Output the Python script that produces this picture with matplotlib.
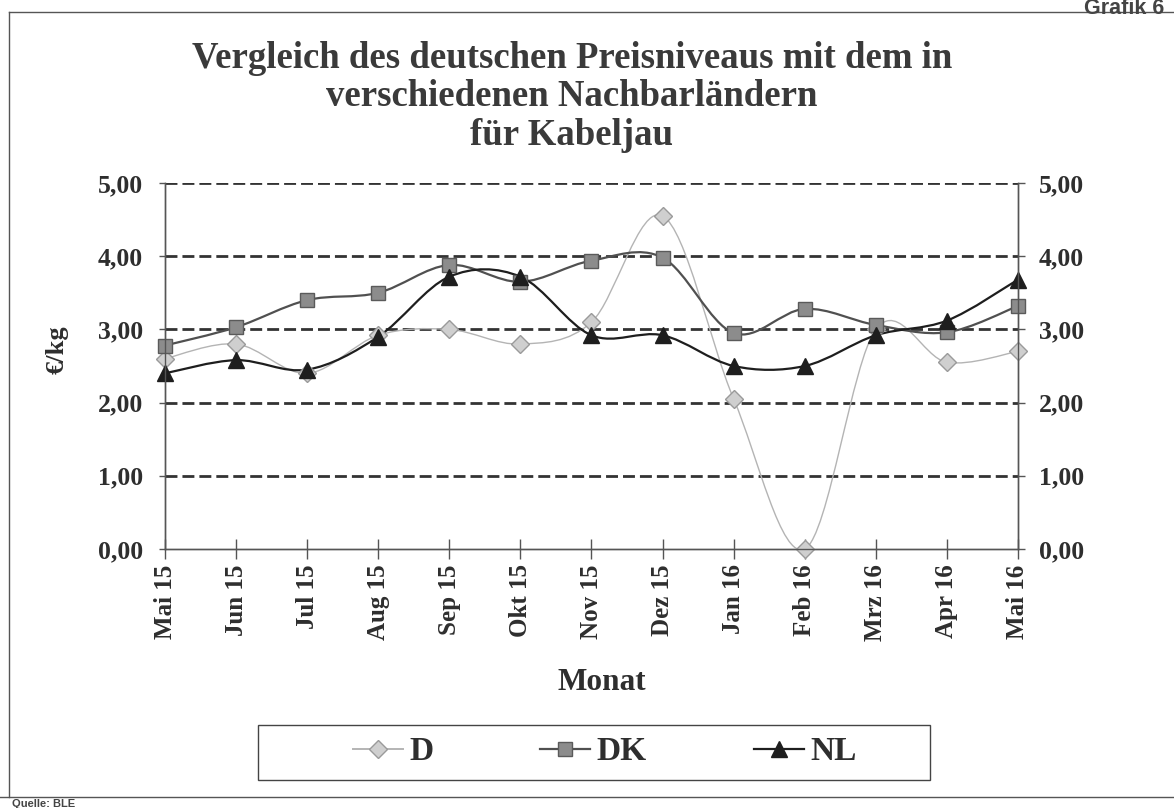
import matplotlib

matplotlib.use("Agg")
import matplotlib.pyplot as plt
from matplotlib.lines import Line2D
from matplotlib.patches import PathPatch, Rectangle
from matplotlib.path import Path

months = ["Mai 15", "Jun 15", "Jul 15", "Aug 15", "Sep 15", "Okt 15", "Nov 15",
          "Dez 15", "Jan 16", "Feb 16", "Mrz 16", "Apr 16", "Mai 16"]
d_vals = [2.60, 2.80, 2.40, 2.92, 3.00, 2.80, 3.10, 4.55, 2.05, 0.00, 3.00, 2.55, 2.70]
dk_vals = [2.78, 3.03, 3.40, 3.50, 3.88, 3.65, 3.94, 3.98, 2.95, 3.28, 3.06, 2.96, 3.32]
nl_vals = [2.40, 2.58, 2.45, 2.90, 3.72, 3.72, 2.92, 2.92, 2.50, 2.50, 2.92, 3.12, 3.68]
y_ticks = [0, 1, 2, 3, 4, 5]
y_labels = ["0,00", "1,00", "2,00", "3,00", "4,00", "5,00"]

SERIF = "Liberation Serif"
INK = "#2e2e2e"


def smooth_path(xs, ys):
    """Excel-like smoothed line: cubic Bezier segments through the points."""
    n = len(xs)
    verts = [(xs[0], ys[0])]
    codes = [Path.MOVETO]
    for i in range(n - 1):
        a = max(i - 1, 0)
        b = min(i + 2, n - 1)
        c1 = (xs[i] + (xs[i + 1] - xs[a]) / 6, ys[i] + (ys[i + 1] - ys[a]) / 6)
        c2 = (xs[i + 1] - (xs[b] - xs[i]) / 6, ys[i + 1] - (ys[b] - ys[i]) / 6)
        verts += [c1, c2, (xs[i + 1], ys[i + 1])]
        codes += [Path.CURVE4] * 3
    return Path(verts, codes)


W, H = 1174, 808
fig = plt.figure(figsize=(W / 100, H / 100), dpi=100)
ax = fig.add_axes([165 / W, 1 - 549 / H, (1018 - 165) / W, (549 - 183) / H])

x = list(range(len(months)))
series = [
    ("D", d_vals, "#b4b4b4", 1.0, "D", 9, "#cfcfcf", "#9a9a9a"),
    ("DK", dk_vals, "#505050", 1.6, "s", 10.5, "#8c8c8c", "#5a5a5a"),
    ("NL", nl_vals, "#1e1e1e", 1.6, "^", 11, "#1e1e1e", "#1e1e1e"),
]

# dashed gridlines
for v in y_ticks[1:]:
    ax.axhline(v, color="#333333", lw=2.0, ls=(0, (4.3, 1.8)), zorder=1)

handles = []
for name, vals, lc, lw, mk, ms, fc, ec in series:
    ax.add_patch(PathPatch(smooth_path(x, vals), fill=False, edgecolor=lc, lw=lw,
                           zorder=3, clip_on=False))
    ax.plot(x, vals, ls="none", marker=mk, ms=ms, mfc=fc, mec=ec, mew=1,
            zorder=4, clip_on=False)
    handles.append(Line2D([], [], color=lc, lw=max(lw, 1.4), marker=mk, ms=ms,
                          mfc=fc, mec=ec, label=name))

ax.set_xlim(0, len(months) - 1)
ax.set_ylim(0, 5)
ax.set_xticks(x)
ax.set_xticklabels(months, rotation=90, fontsize=18, fontweight="bold",
                   family=SERIF, color=INK)
ax.set_yticks(y_ticks)
ax.set_yticklabels(y_labels, fontsize=18.5, fontweight="bold", family=SERIF,
                   color=INK)
ax.tick_params(axis="x", direction="inout", length=14, width=1, color="#555555", pad=4)
ax.tick_params(axis="y", direction="out", length=4, width=1, color="#555555", pad=12)

ax2 = ax.twinx()
ax2.set_ylim(0, 5)
ax2.set_yticks(y_ticks)
ax2.set_yticklabels(y_labels, fontsize=18.5, fontweight="bold", family=SERIF,
                    color=INK)
ax2.tick_params(axis="y", direction="out", length=5, width=1, color="#555555", pad=10)

for a in (ax, ax2):
    a.spines["top"].set_visible(False)
    for s in ("left", "right", "bottom"):
        a.spines[s].set_color("#555555")
        a.spines[s].set_linewidth(1.0)

ax.set_ylabel("€/kg", fontsize=19, fontweight="bold", family=SERIF, color=INK)
ax.yaxis.set_label_coords((69 - 165) / (1018 - 165), (549 - 350) / (549 - 183))
ax.set_xlabel("Monat", fontsize=22.5, fontweight="bold", family=SERIF, color=INK,
              va="center")
ax.xaxis.set_label_coords((602 - 165) / (1018 - 165), (549 - 683) / (549 - 183))

fig.text(0.487, 1 - 97 / H,
         "Vergleich des deutschen Preisniveaus mit dem in\n"
         "verschiedenen Nachbarländern\nfür Kabeljau",
         ha="center", va="center", fontsize=26.5, fontweight="bold", family=SERIF,
         color="#3a3a3a", linespacing=1.13)

# legend with its own frame
fig.add_artist(Rectangle((258 / W, 1 - 780 / H), (930 - 258) / W, 55 / H,
                         transform=fig.transFigure, fill=False, edgecolor="#444444",
                         lw=1.0))
fig.legend(handles=handles, loc="center", bbox_to_anchor=(0.515, 1 - 752 / H),
           ncol=3, frameon=False, handlelength=1.5, handletextpad=0.2,
           columnspacing=3.2, prop={"family": SERIF, "weight": "bold", "size": 24},
           labelcolor=INK)

# outer page frame and page texts
fig.add_artist(Line2D([9 / W, 9 / W], [1 - 12 / H, 1 - 797 / H],
                      transform=fig.transFigure, color="#555555", lw=1.0))
fig.add_artist(Line2D([9 / W, 1.0], [1 - 12 / H, 1 - 12 / H],
                      transform=fig.transFigure, color="#555555", lw=1.0))
fig.add_artist(Line2D([0, 1.0], [1 - 797 / H, 1 - 797 / H],
                      transform=fig.transFigure, color="#555555", lw=1.0))
fig.text(1084 / W, 1 + 2 / H, "Grafik 6", ha="left", va="top", fontsize=15.5,
         fontweight="bold", family="Liberation Sans", color="#444444")
fig.text(12 / W, 1 - 807 / H, "Quelle: BLE", ha="left", va="baseline", fontsize=8,
         fontweight="bold", family="Liberation Sans", color="#444444")

fig.savefig("out.png", dpi=100, facecolor="white")
